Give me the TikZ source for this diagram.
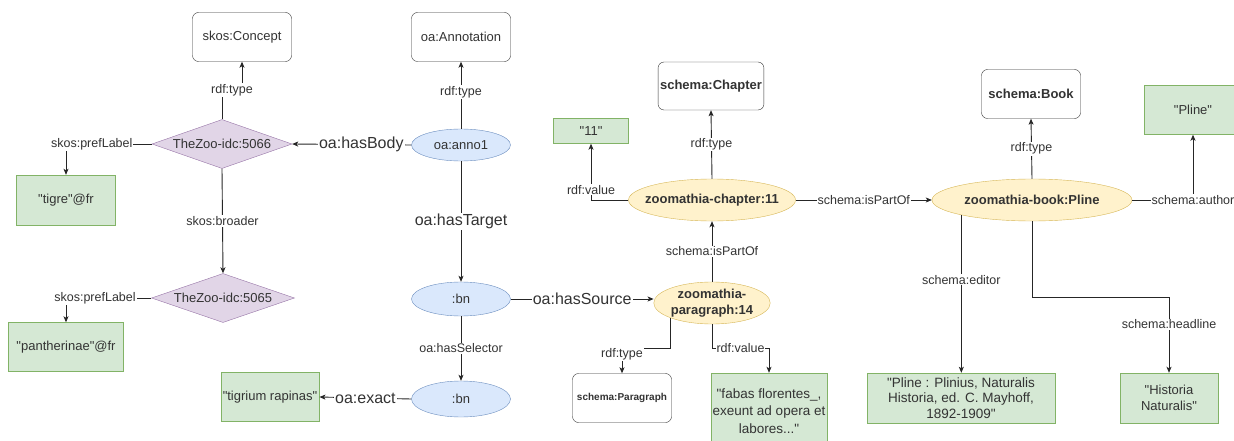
\documentclass[tikz,border=0pt]{standalone}
\usepackage{fontspec}
\setmainfont{Liberation Sans}[Ligatures=TeXOff]
\usetikzlibrary{shapes.geometric,arrows.meta}
\definecolor{txt}{HTML}{333333}
\definecolor{bnfill}{HTML}{DAE8FC}
\definecolor{bnline}{HTML}{6C8EBF}
\definecolor{resfill}{HTML}{FFF2CC}
\definecolor{resline}{HTML}{D6B656}
\definecolor{litfill}{HTML}{D5E8D4}
\definecolor{litline}{HTML}{82B366}
\definecolor{cfill}{HTML}{E1D5E7}
\definecolor{cline}{HTML}{9673A6}
\begin{document}
\begin{tikzpicture}[x=1pt,y=-1pt,
    every node/.style={text=txt, font=\fontsize{13}{15.5}\selectfont},
    cls/.style={draw=black!80, rounded corners=6pt, fill=white, minimum width=99pt, minimum height=49pt, inner sep=2pt},
    bold/.style={font=\bfseries\fontsize{13}{15.5}\selectfont},
    lit/.style={draw=litline, fill=litfill, minimum height=49pt, inner sep=2pt, align=center},
    blank/.style={ellipse, draw=bnline, fill=bnfill, inner sep=0pt, minimum width=99pt},
    res/.style={ellipse, draw=resline, fill=resfill, inner sep=0pt, align=center, font=\bfseries\fontsize{13}{16}\selectfont},
    concept/.style={diamond, draw=cline, fill=cfill, aspect=2.9, inner sep=0pt, minimum height=49pt},
    lbl/.style={fill=white, inner sep=1pt, font=\fontsize{12.5}{14}\selectfont},
    biglbl/.style={fill=white, inner sep=1pt, font=\fontsize{16}{18}\selectfont},
    arr/.style={-{Stealth[length=6pt,width=5pt,inset=1.5pt]}, line width=0.9pt, draw=black!85},
    ln/.style={line width=0.9pt, draw=black!85}]
  \useasboundingbox (0,0) rectangle (1234,441);
  % skos part
  \node[cls] (concept) at (242,37) {skos:Concept};
  \node[concept, minimum width=140pt] (d1) at (222,144) {TheZoo-idc:5066};
  \node[concept, minimum width=143pt] (d2) at (223,298) {TheZoo-idc:5065};
  \node[lit, minimum width=99pt, minimum height=50pt] (tigre) at (66,200) {"tigre"@fr};
  \node[lit, minimum width=115pt] (panth) at (66,347) {"pantherinae"@fr};
  % annotation
  \node[cls] (annot) at (461,37) {oa:Annotation};
  \node[blank, minimum height=32pt] (anno1) at (461,145) {oa:anno1};
  \node[blank, minimum height=34pt] (bn1) at (461,299) {:bn};
  \node[blank, minimum height=36pt] (bn2) at (461,399) {:bn};
  \node[lit, minimum width=97pt] (tigrium) at (270,397) {"tigrium rapinas"};
  % zoomathia
  \node[res, minimum width=115pt, minimum height=42pt] (para) at (712,303) {zoomathia-\\paragraph:14};
  \node[res, minimum width=167pt, minimum height=42pt, inner xsep=-8pt] (chapter) at (712,200) {zoomathia-chapter:11};
  \node[res, minimum width=200pt, minimum height=42pt] (book) at (1032,200) {zoomathia-book:Pline};
  \node[cls, bold, minimum width=105pt, minimum height=48pt] (chbox) at (711,86) {schema:Chapter};
  \node[cls, bold] (bkbox) at (1031,94) {schema:Book};
  \node[cls, font=\bfseries\fontsize{10}{12}\selectfont] (pbox) at (622,398) {schema:Paragraph};
  \node[lit, minimum width=75pt, minimum height=25pt] (v11) at (591,131) {"11"};
  \node[lit, minimum width=98pt] (pline) at (1193,110) {"Pline"};
  \node[lit, minimum width=188pt, minimum height=50pt, font=\fontsize{13.5}{15.5}\selectfont] (editor) at (961,398) {"Pline : Plinius, Naturalis\\Historia, ed. C. Mayhoff,\\1892-1909"};
  \node[lit, minimum width=98pt, minimum height=50pt] (headline) at (1169,398) {"Historia\\Naturalis"};
  \node[lit, minimum width=116pt, minimum height=76pt, font=\fontsize{13.5}{17.5}\selectfont] (fabas) at (769,411) {"fabas florentes\_,\\exeunt ad opera et\\labores..."};
  % edges
  \draw[arr] (d1.north) |- (232,90) node[lbl] {rdf:type} -| (concept.south);
  \draw[arr] (d1.west) -| node[lbl, pos=0.35] {skos:prefLabel} (tigre.north);
  \draw[arr] (d1.south) -- node[lbl] {skos:broader} (d2.north);
  \draw[arr] (d2.west) -| node[lbl, pos=0.33] {skos:prefLabel} (panth.north);
  \draw[arr] (anno1.north) -- node[lbl, pos=0.55] {rdf:type} (annot.south);
  \draw[arr] (anno1.west) -- node[biglbl, pos=0.42] {oa:hasBody} (d1.east);
  \draw[arr] (anno1.south) -- node[biglbl] {oa:hasTarget} (bn1.north);
  \draw[arr] (bn1.east) -- node[biglbl] {oa:hasSource} (bn1.east -| para.west);
  \draw[arr] (bn1.south) -- node[lbl] {oa:hasSelector} (bn2.north);
  \draw[arr] (bn2.west) -- node[biglbl] {oa:exact} (tigrium.east);
  \draw[arr] (para.north) -- node[lbl] {schema:isPartOf} (chapter.south);
  \draw[arr] (para.200) -- ++(0,30) -| node[lbl, pos=0.62] {rdf:type} (pbox.north);
  \draw[arr] (para.south) -- ++(0,24) -| node[lbl, pos=0.25] {rdf:value} (fabas.north);
  \draw[arr] (chapter.north) -- node[lbl] {rdf:type} (chbox.south);
  \draw[arr] (chapter.west) -| node[lbl, pos=0.59] {rdf:value} (v11.south);
  \draw[arr] (chapter.east) -- node[lbl] {schema:isPartOf} (book.west);
  \draw[arr] (book.north) -- node[lbl] {rdf:type} (bkbox.south);
  \draw[arr] (book.east) -| node[lbl] {schema:author} (pline.south);
  \draw[arr] (book.192) -- node[lbl, pos=0.41] {schema:editor} (book.192 |- editor.north);
  \draw[arr] (book.south) -- ++(0,76) -| node[lbl, pos=0.68] {schema:headline} (headline.north);
\end{tikzpicture}
\end{document}
